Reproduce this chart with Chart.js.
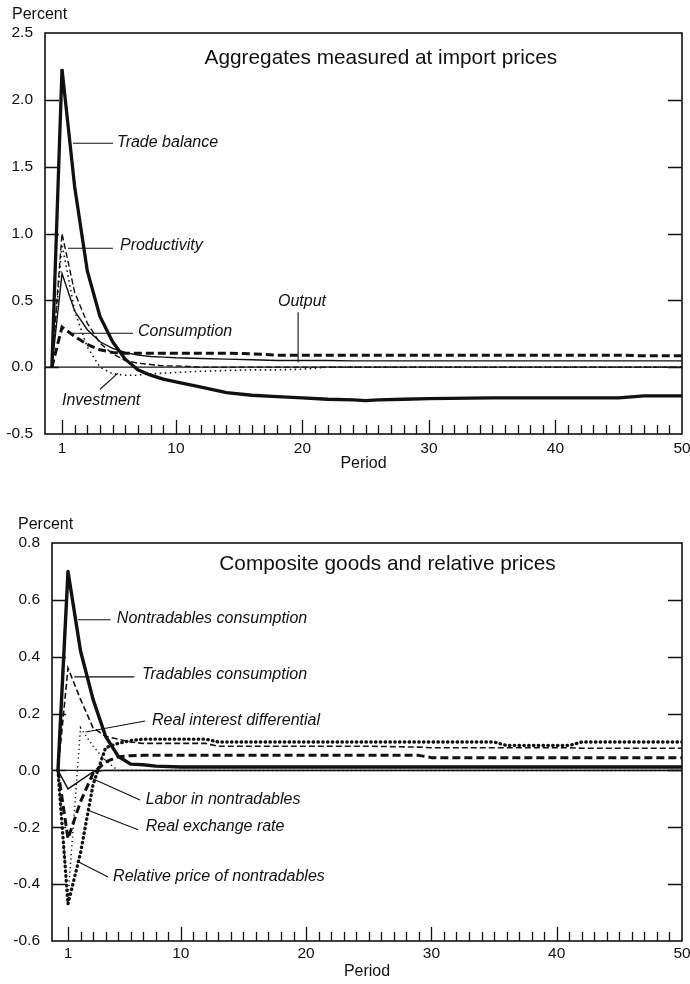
<!DOCTYPE html>
<html>
<head>
<meta charset="utf-8">
<script src="https://cdn.jsdelivr.net/npm/chart.js@4.4.1/dist/chart.umd.min.js"></script>
<style>
  html, body { margin: 0; padding: 0; background: #ffffff; }
  #wrap { position: relative; width: 690px; height: 984px; overflow: hidden; }
  canvas { position: absolute; left: 0; }
  #c1 { top: 0; }
  #c2 { top: 492px; }
</style>
</head>
<body>
<div id="wrap">
  <canvas id="c1" width="690" height="492"></canvas>
  <canvas id="c2" width="690" height="492"></canvas>
</div>
<script>
// ---- Panel 1: aggregates measured at import prices ----
const periodsTop = [0.2, 1, 2, 3, 4, 5, 6, 7, 8, 9, 10, 12, 14, 16, 18, 20, 22, 24, 25, 26, 28, 30, 35, 40, 45, 47, 50];
const tradeBalance = [0, 2.23, 1.35, 0.72, 0.38, 0.19, 0.06, -0.02, -0.06, -0.09, -0.11, -0.15, -0.19, -0.21, -0.22, -0.23, -0.24, -0.245, -0.25, -0.245, -0.24, -0.235, -0.23, -0.23, -0.23, -0.215, -0.215];
const productivity = [0, 1.00, 0.56, 0.33, 0.18, 0.10, 0.05, 0.03, 0.02, 0.01, 0.01, 0, 0, 0, 0, 0, 0, 0, 0, 0, 0, 0, 0, 0, 0, 0, 0];
const output = [0, 0.70, 0.42, 0.28, 0.19, 0.14, 0.11, 0.09, 0.08, 0.075, 0.07, 0.065, 0.06, 0.055, 0.05, 0.05, 0.05, 0.047, 0.047, 0.047, 0.047, 0.047, 0.047, 0.047, 0.047, 0.047, 0.047];
const consumption = [0, 0.30, 0.23, 0.17, 0.13, 0.11, 0.105, 0.105, 0.105, 0.105, 0.105, 0.105, 0.105, 0.10, 0.09, 0.09, 0.09, 0.09, 0.09, 0.09, 0.09, 0.09, 0.09, 0.09, 0.09, 0.085, 0.085];
const investment = [0, 0.92, 0.42, 0.15, 0.0, -0.05, -0.06, -0.06, -0.05, -0.045, -0.04, -0.03, -0.025, -0.02, -0.02, -0.015, 0, 0, 0, 0, 0, 0, 0, 0, 0, 0, 0];
const yTicksTop = [-0.5, 0.0, 0.5, 1.0, 1.5, 2.0, 2.5];

// ---- Panel 2: composite goods and relative prices ----
const periodsBottom = [0.2, 1, 2, 3, 4, 5, 6, 7, 8, 10, 12, 13, 15, 20, 25, 29, 30, 35, 36, 41, 42, 45, 50];
const nontradablesConsumption = [0, 0.70, 0.42, 0.25, 0.12, 0.05, 0.022, 0.02, 0.015, 0.012, 0.012, 0.012, 0.012, 0.012, 0.012, 0.012, 0.012, 0.012, 0.012, 0.012, 0.012, 0.012, 0.012];
const tradablesConsumption = [0, 0.36, 0.25, 0.15, 0.12, 0.11, 0.10, 0.095, 0.095, 0.095, 0.095, 0.085, 0.085, 0.085, 0.085, 0.082, 0.08, 0.08, 0.08, 0.08, 0.078, 0.078, 0.078];
const realInterestDifferential = [0, -0.45, 0.15, 0.085, 0.035, 0, 0, 0, 0, 0, 0, 0, 0, 0, 0, 0, 0, 0, 0, 0, 0, 0, 0];
const laborInNontradables = [0, -0.065, -0.035, -0.005, 0, 0, 0, 0, 0, 0, 0, 0, 0, 0, 0, 0, 0, 0, 0, 0, 0, 0, 0];
const realExchangeRate = [0, -0.24, -0.11, -0.01, 0.03, 0.048, 0.052, 0.053, 0.053, 0.053, 0.053, 0.053, 0.053, 0.053, 0.053, 0.053, 0.045, 0.045, 0.045, 0.045, 0.045, 0.045, 0.045];
const relativePriceNontradables = [0, -0.47, -0.29, -0.05, 0.08, 0.095, 0.105, 0.11, 0.11, 0.11, 0.11, 0.10, 0.10, 0.10, 0.10, 0.10, 0.10, 0.10, 0.088, 0.088, 0.10, 0.10, 0.10];
const yTicksBottom = [-0.6, -0.4, -0.2, 0.0, 0.2, 0.4, 0.6, 0.8];

// Shared period axis labels
const periodLabels = [1, 10, 20, 30, 40, 50];

const INK = '#111111';
const FONT = "'Liberation Sans', Arial, Helvetica, sans-serif";

function pts(xs, ys) { return xs.map((x, i) => ({ x: x, y: ys[i] })); }

function series(label, xs, ys, width, dash, cap, join) {
  return {
    label: label,
    data: pts(xs, ys),
    borderColor: INK,
    borderWidth: width,
    borderDash: dash || [],
    borderCapStyle: cap || 'butt',
    borderJoinStyle: join || (cap === 'round' ? 'round' : 'miter'),
    pointRadius: 0,
    tension: 0,
    fill: false
  };
}

// Frame, inward tick marks, zero line, panel title and callout labels
const panelDecor = {
  id: 'panelDecor',
  beforeDatasetsDraw(chart) {
    const { ctx, chartArea: a, scales: { y } } = chart;
    const y0 = y.getPixelForValue(0);
    ctx.save();
    ctx.strokeStyle = INK;
    ctx.lineWidth = 1.2;
    ctx.beginPath();
    ctx.moveTo(a.left, y0);
    ctx.lineTo(a.right, y0);
    ctx.stroke();
    ctx.restore();
  },
  afterDatasetsDraw(chart, args, o) {
    const { ctx, chartArea: a, scales: { x, y } } = chart;
    ctx.save();
    ctx.strokeStyle = INK;
    ctx.fillStyle = INK;

    // frame
    ctx.lineWidth = 1.6;
    ctx.strokeRect(a.left, a.top, a.right - a.left, a.bottom - a.top);

    // value ticks on both sides, pointing inward
    ctx.lineWidth = 1.3;
    o.yMarks.forEach(v => {
      if (v <= y.min || v >= y.max) return;
      const py = Math.round(y.getPixelForValue(v)) + 0.5;
      ctx.beginPath();
      ctx.moveTo(a.left, py); ctx.lineTo(a.left + 14, py);
      ctx.moveTo(a.right, py); ctx.lineTo(a.right - 14, py);
      ctx.stroke();
    });

    // period ticks along the bottom, pointing up
    for (let p = 1; p < 50; p++) {
      const px = Math.round(x.getPixelForValue(p)) + 0.5;
      const len = o.xMarks.includes(p) ? 14 : 9;
      ctx.beginPath();
      ctx.moveTo(px, a.bottom); ctx.lineTo(px, a.bottom - len);
      ctx.stroke();
    }

    // unit label and axis name
    ctx.font = '16px ' + FONT;
    ctx.textBaseline = 'middle';
    ctx.textAlign = 'left';
    ctx.fillText('Percent', a.left + o.unitDx, a.top - 18);
    ctx.textAlign = 'center';
    ctx.fillText('Period', (a.left + a.right) / 2, a.bottom + o.periodDy);

    // panel title
    ctx.font = '20.8px ' + FONT;
    ctx.fillText(o.title, x.getPixelForValue(o.titleAt[0]), y.getPixelForValue(o.titleAt[1]));

    // callouts
    ctx.font = 'italic 16px ' + FONT;
    ctx.lineWidth = 1.1;
    o.notes.forEach(n => {
      const [p1, p2] = n.line;
      ctx.beginPath();
      ctx.moveTo(x.getPixelForValue(p1[0]), y.getPixelForValue(p1[1]));
      ctx.lineTo(x.getPixelForValue(p2[0]), y.getPixelForValue(p2[1]));
      ctx.stroke();
      ctx.textAlign = n.align || 'left';
      ctx.fillText(n.text, x.getPixelForValue(n.at[0]), y.getPixelForValue(n.at[1]));
    });
    ctx.restore();
  }
};

function makeChart(id, datasets, cfg) {
  return new Chart(document.getElementById(id), {
    type: 'line',
    data: { datasets: datasets },
    options: {
      responsive: false,
      animation: false,
      devicePixelRatio: 1,
      parsing: false,
      layout: { padding: { top: cfg.padTop, right: 8, left: 0, bottom: 0 } },
      plugins: {
        legend: { display: false },
        tooltip: { enabled: false },
        panelDecor: cfg.decor
      },
      scales: {
        x: {
          type: 'linear',
          min: cfg.xMin,
          max: 50,
          grid: { display: false, drawTicks: false },
          border: { display: false },
          afterBuildTicks: s => { s.ticks = periodLabels.map(v => ({ value: v })); },
          afterFit: s => { s.height = cfg.xHeight; s.paddingLeft = 0; s.paddingRight = 0; },
          ticks: {
            autoSkip: false, maxRotation: 0, padding: cfg.xPad,
            color: INK, font: { family: FONT, size: 15.5 },
            callback: v => String(v)
          }
        },
        y: {
          type: 'linear',
          min: cfg.yTicks[0],
          max: cfg.yTicks[cfg.yTicks.length - 1],
          grid: { display: false, drawTicks: false },
          border: { display: false },
          afterBuildTicks: s => { s.ticks = cfg.yTicks.map(v => ({ value: v })); },
          afterFit: s => { s.width = cfg.yWidth; s.paddingTop = 0; s.paddingBottom = 0; },
          ticks: {
            padding: 12, color: INK, font: { family: FONT, size: 15.5 },
            callback: v => v.toFixed(1)
          }
        }
      }
    },
    plugins: [panelDecor]
  });
}

makeChart('c1', [
  series('Trade balance', periodsTop, tradeBalance, 3.3),
  series('Productivity', periodsTop, productivity, 1.4, [6, 3]),
  series('Output', periodsTop, output, 1.4),
  series('Consumption', periodsTop, consumption, 3.0, [8, 4]),
  series('Investment', periodsTop, investment, 1.6, [1.5, 3.5])
], {
  padTop: 33, xHeight: 58, yWidth: 45, xMin: -0.344, xPad: 5,
  yTicks: yTicksTop,
  decor: {
    title: 'Aggregates measured at import prices',
    titleAt: [26.2, 2.31],
    unitDx: -33, periodDy: 30,
    yMarks: yTicksTop, xMarks: periodLabels,
    notes: [
      { text: 'Trade balance', at: [5.35, 1.68], line: [[1.87, 1.675], [5.03, 1.675]] },
      { text: 'Productivity', at: [5.58, 0.91], line: [[1.47, 0.89], [5.03, 0.89]] },
      { text: 'Consumption', at: [7.0, 0.27], line: [[1.63, 0.254], [6.61, 0.254]] },
      { text: 'Output', at: [19.97, 0.49], align: 'center', line: [[19.66, 0.41], [19.66, 0.037]] },
      { text: 'Investment', at: [1.0, -0.247], line: [[4.0, -0.165], [5.43, -0.045]] }
    ]
  }
});

makeChart('c2', [
  series('Nontradables consumption', periodsBottom, nontradablesConsumption, 3.4, null, 'butt', 'round'),
  series('Tradables consumption', periodsBottom, tradablesConsumption, 1.6, [6, 3]),
  series('Real interest differential', periodsBottom, realInterestDifferential, 1.5, [1.2, 3.2]),
  series('Labor in nontradables', periodsBottom, laborInNontradables, 1.4),
  series('Real exchange rate', periodsBottom, realExchangeRate, 3.0, [8, 4], 'butt', 'round'),
  series('Relative price of nontradables', periodsBottom, relativePriceNontradables, 3.3, [0.5, 4.3], 'round')
], {
  padTop: 51, xHeight: 43, yWidth: 52, xMin: -0.277, xPad: 3,
  yTicks: yTicksBottom,
  decor: {
    title: 'Composite goods and relative prices',
    titleAt: [26.5, 0.726],
    unitDx: -34, periodDy: 31,
    yMarks: yTicksBottom, xMarks: periodLabels,
    notes: [
      { text: 'Nontradables consumption', at: [4.9, 0.533], line: [[1.8, 0.53], [4.4, 0.53]] },
      { text: 'Tradables consumption', at: [6.9, 0.336], line: [[1.5, 0.329], [6.3, 0.329]] },
      { text: 'Real interest differential', at: [7.7, 0.174], line: [[2.4, 0.135], [7.15, 0.174]] },
      { text: 'Labor in nontradables', at: [7.2, -0.104], line: [[2.8, -0.026], [6.75, -0.104]] },
      { text: 'Real exchange rate', at: [7.2, -0.199], line: [[2.55, -0.139], [6.6, -0.209]] },
      { text: 'Relative price of nontradables', at: [4.6, -0.375], line: [[1.85, -0.322], [4.2, -0.375]] }
    ]
  }
});
</script>
</body>
</html>
